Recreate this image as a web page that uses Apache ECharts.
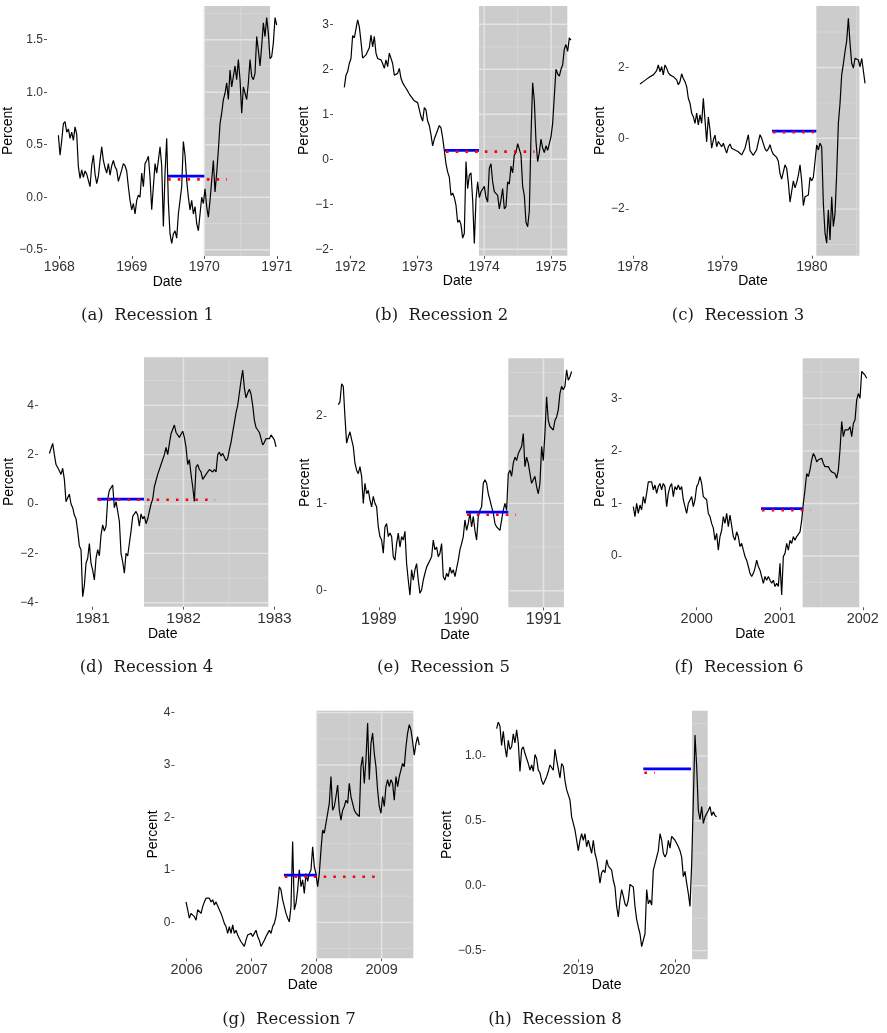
<!DOCTYPE html>
<html>
<head>
<meta charset="utf-8">
<script src="https://cdn.jsdelivr.net/npm/echarts@6/dist/echarts.min.js"></script>
<style>
  html, body { margin: 0; padding: 0; background: #ffffff; }
  #chart { width: 887px; height: 1033px; }
</style>
</head>
<body>
<div id="chart"></div>
<script>
// Spread series (percent) around each recession, evenly sampled between start and end (decimal years)
const startA = 1967.987, endA = 1970.998;
const valuesA = [0.59,0.40,0.54,0.70,0.72,0.62,0.65,0.56,0.62,0.54,0.67,0.60,0.29,0.18,0.26,0.19,0.25,0.22,0.16,0.10,0.30,0.40,0.22,0.13,0.20,0.35,0.48,0.35,0.28,0.23,0.32,0.21,0.30,0.35,0.29,0.26,0.15,0.15,0.26,0.32,0.30,0.25,0.10,-0.03,-0.12,-0.06,-0.16,-0.03,0.02,0.00,0.23,0.10,0.32,0.35,0.39,0.19,-0.12,0.10,0.32,0.23,0.35,0.48,0.30,-0.28,0.23,0.56,-0.05,-0.35,-0.44,-0.35,-0.32,-0.39,-0.16,-0.03,0.10,0.53,0.40,0.16,0.00,-0.12,-0.03,-0.16,-0.09,-0.25,-0.32,-0.16,0.00,-0.06,0.08,-0.09,-0.19,-0.03,0.16,0.35,0.05,0.23,0.45,0.70,0.80,0.93,0.99,1.09,0.93,1.21,1.05,1.15,1.25,1.12,1.31,1.12,0.80,1.05,0.99,0.93,1.09,1.31,1.15,1.12,1.18,1.53,1.40,1.25,1.44,1.66,1.53,1.71,1.56,1.32,1.34,1.47,1.71,1.64];

const startB = 1971.910, endB = 1975.297;
const valuesB = [1.60,1.87,1.95,2.13,2.24,2.75,2.70,2.90,3.10,2.95,2.62,2.25,2.25,2.32,2.40,2.48,2.76,2.50,2.73,2.36,2.24,2.28,2.21,2.13,2.02,2.21,2.06,2.36,2.32,2.13,1.87,1.84,1.91,2.02,1.80,1.70,1.67,1.58,1.52,1.45,1.40,1.35,1.30,1.30,1.26,1.28,0.95,0.85,1.15,1.10,0.85,0.75,0.55,0.30,0.45,0.55,0.52,0.75,0.70,0.48,0.20,-0.10,-0.28,-0.40,-0.80,-0.75,-0.85,-1.02,-1.40,-1.35,-1.45,-1.75,-1.65,-0.05,-0.65,-0.35,-0.30,-0.90,-1.87,-0.90,-0.50,-0.85,-0.72,-0.74,-0.60,-0.85,-0.95,-0.20,-0.10,-0.50,-0.72,-0.70,-0.80,-1.10,-0.90,-0.65,-1.10,-1.05,-0.50,-0.55,-0.15,-0.30,0.10,0.15,0.35,0.35,0.10,-0.60,-0.80,-1.40,-1.50,-1.15,0.50,1.70,1.30,0.40,-0.05,0.15,0.45,0.25,0.15,0.30,0.20,0.35,0.50,0.80,1.40,2.00,1.90,1.85,2.00,2.10,2.45,2.55,2.40,2.70,2.65];

const startC = 1978.080, endC = 1980.594;
const valuesC = [1.53,1.56,1.60,1.63,1.67,1.70,1.74,1.72,1.79,1.85,1.91,2.07,1.88,2.02,1.79,2.07,1.98,1.85,1.79,1.76,1.74,1.70,1.65,1.51,1.60,1.82,1.69,1.60,1.46,1.13,0.99,0.71,0.61,0.42,0.71,0.38,0.66,0.42,1.13,0.52,-0.10,0.60,0.24,-0.28,-0.05,0.09,-0.24,-0.09,-0.14,-0.24,-0.14,-0.28,-0.42,-0.24,-0.16,-0.28,-0.24,-0.33,-0.28,-0.38,-0.42,-0.47,-0.52,-0.28,-0.30,0.10,-0.35,-0.35,-0.48,-0.45,-0.32,-0.10,0.10,0.00,-0.15,-0.30,-0.36,-0.30,-0.18,-0.35,-0.45,-0.50,-0.54,-0.65,-1.00,-1.15,-0.95,-0.75,-0.85,-1.25,-1.80,-1.50,-1.20,-1.40,-1.25,-1.05,-0.75,-1.20,-1.90,-1.65,-1.70,-1.60,-1.10,-1.20,-1.10,-0.65,-0.19,-0.33,-0.14,-0.24,-1.84,-2.68,-2.96,-2.02,-2.87,-1.65,-2.49,-2.12,-0.99,0.42,0.99,1.80,2.10,2.45,2.75,3.39,2.68,2.12,1.98,2.26,2.31,2.21,2.02,2.26,2.30,1.55];

const startD = 1980.524, endD = 1983.018;
const valuesD = [2.05,2.25,2.46,2.00,1.60,1.55,1.35,1.20,1.45,1.00,0.09,0.25,0.40,0.00,-0.15,-0.45,-0.60,-1.10,-1.70,-1.86,-3.76,-3.30,-2.40,-2.20,-1.60,-2.41,-2.68,-3.08,-2.20,-1.85,-2.10,-1.25,-0.85,-1.10,-0.90,0.20,0.55,0.50,0.77,-0.15,0.10,-0.30,-0.70,-2.00,-2.35,-2.80,-2.00,-2.10,-1.60,-1.10,-0.50,-0.45,-0.30,-0.45,-0.90,-0.40,-0.60,-0.50,-0.80,-0.60,-0.30,0.00,0.20,0.70,0.75,1.20,1.20,1.60,1.60,2.00,2.30,2.00,2.45,2.85,2.90,3.20,2.90,2.85,2.70,2.75,2.95,2.70,2.30,1.60,1.80,1.20,0.70,0.10,1.50,1.60,1.40,1.30,1.00,1.00,1.20,1.15,1.40,1.45,1.30,1.40,1.30,2.00,2.10,1.95,2.05,2.00,1.75,1.85,2.20,2.50,2.90,3.30,3.70,4.00,4.50,5.00,5.43,4.70,4.30,4.50,4.65,4.45,4.00,3.40,3.10,3.10,2.90,2.65,2.40,2.50,2.65,2.60,2.65,2.80,2.80,2.60,2.32];

const startE = 1988.507, endE = 1991.341;
const valuesE = [2.13,2.16,2.37,2.34,1.99,1.69,1.76,1.82,1.73,1.65,1.46,1.38,1.34,1.42,1.31,1.00,1.23,1.11,1.15,1.04,0.96,1.08,1.00,0.96,0.73,0.62,0.58,0.43,0.73,0.77,0.62,0.66,0.62,0.39,0.35,0.54,0.66,0.50,0.62,0.58,0.68,0.31,0.12,-0.05,0.24,0.12,0.24,0.31,0.12,-0.03,0.01,0.12,0.20,0.27,0.31,0.35,0.39,0.58,0.47,0.50,0.39,0.43,0.54,0.16,0.12,0.20,0.16,0.27,0.20,0.24,0.16,0.16,0.35,0.47,0.54,0.62,0.81,0.69,0.77,0.89,0.73,0.85,0.69,0.58,0.85,0.92,0.96,1.23,1.27,1.23,1.11,1.04,0.96,0.89,0.77,0.73,0.75,0.69,0.81,0.92,1.00,0.92,1.34,1.38,1.31,1.46,1.53,1.49,1.57,1.61,1.65,1.80,1.42,1.53,1.46,1.34,1.23,1.27,1.31,1.19,1.11,1.23,1.65,1.49,1.80,2.22,1.95,1.88,1.90,1.84,1.95,1.99,2.07,2.26,2.34,2.30,2.34,2.53,2.41,2.45,2.51];

const startF = 1999.236, endF = 2002.047;
const valuesF = [0.94,0.75,1.00,0.81,0.97,0.88,1.13,1.00,1.19,1.41,1.38,1.41,1.26,1.35,1.19,1.32,1.38,1.26,1.38,1.32,0.94,1.19,1.32,1.38,1.13,1.32,1.26,1.35,1.26,1.32,1.07,0.94,0.81,1.00,1.03,1.13,0.94,1.07,1.32,1.38,1.51,1.38,1.13,1.10,1.07,0.81,0.75,0.62,0.53,0.30,0.43,0.11,0.37,0.49,0.75,0.62,0.81,0.56,0.78,0.81,0.37,0.30,0.46,0.37,0.18,0.24,0.11,-0.01,-0.08,-0.20,-0.33,-0.39,-0.33,-0.23,-0.08,-0.20,-0.27,-0.27,-0.52,-0.39,-0.46,-0.39,-0.46,-0.52,-0.46,-0.58,-0.52,-0.58,-0.14,-0.74,-0.01,0.05,0.24,0.11,0.30,0.24,0.37,0.30,0.37,0.40,0.46,0.68,1.00,1.26,1.57,1.51,1.64,1.83,1.95,1.89,1.79,1.83,1.83,1.86,1.76,1.70,1.67,1.70,1.64,1.60,1.57,1.57,1.48,1.64,2.02,2.56,2.27,2.40,2.43,2.40,2.46,2.27,2.52,2.59,2.97,3.09,3.00,3.51,3.48,3.44,3.38];

const startG = 2005.990, endG = 2009.579;
const valuesG = [0.39,0.24,0.08,0.17,0.14,0.11,0.04,0.24,0.27,0.17,0.30,0.39,0.46,0.43,0.46,0.39,0.43,0.33,0.39,0.36,0.24,0.17,0.08,-0.02,-0.08,-0.21,-0.08,-0.21,-0.05,-0.21,-0.15,-0.24,-0.31,-0.37,-0.34,-0.46,-0.34,-0.24,-0.27,-0.21,-0.27,-0.21,-0.15,-0.27,-0.34,-0.46,-0.43,-0.34,-0.27,-0.21,-0.15,-0.21,-0.08,-0.02,0.11,0.36,0.68,0.62,0.43,0.30,0.17,0.08,0.01,0.30,1.54,0.24,0.36,0.62,1.00,0.68,0.81,0.55,0.93,0.78,0.93,1.00,1.44,1.06,0.93,0.68,0.93,1.38,1.76,1.70,1.89,2.08,2.27,2.78,2.14,2.21,2.40,2.62,2.14,1.95,2.14,2.21,2.33,2.27,2.65,2.40,2.27,2.14,2.08,2.08,2.02,2.97,3.16,2.65,3.10,3.80,2.72,3.41,3.61,3.22,2.97,2.52,2.21,2.08,2.40,2.21,2.59,2.72,2.59,2.72,2.65,2.33,2.78,2.59,2.78,2.91,3.03,2.97,3.35,3.61,3.77,3.67,3.45,3.19,3.41,3.54,3.38];

const startH = 2018.155, endH = 2020.431;
const valuesH = [1.21,1.26,1.23,1.08,1.19,1.07,0.99,1.12,1.05,1.07,1.17,1.10,1.20,1.10,0.88,1.05,1.07,1.02,0.98,0.94,0.89,0.93,0.88,1.01,0.98,0.89,0.87,0.81,0.78,0.81,0.84,0.88,0.93,0.92,0.89,1.05,0.97,0.90,0.83,0.94,0.92,0.81,0.74,0.70,0.66,0.53,0.48,0.43,0.35,0.27,0.35,0.40,0.35,0.40,0.30,0.35,0.30,0.25,0.35,0.25,0.20,0.12,0.02,0.10,0.12,0.10,0.20,0.15,0.16,0.12,0.04,-0.01,-0.16,-0.24,-0.11,-0.03,-0.08,-0.14,-0.16,-0.11,0.01,0.02,-0.01,-0.16,-0.26,-0.32,-0.37,-0.47,-0.46,-0.37,-0.03,-0.14,-0.11,-0.15,0.12,0.17,0.22,0.27,0.40,0.35,0.25,0.22,0.25,0.35,0.29,0.38,0.39,0.35,0.35,0.30,0.27,0.22,0.07,0.11,0.02,-0.06,-0.16,0.17,0.66,1.16,0.92,0.58,0.51,0.61,0.48,0.53,0.52,0.58,0.61,0.54,0.57,0.54,0.53];

// Recession periods shaded in grey: [start, end]
const recessions = [[1970.0,1970.906],[1973.922,1975.242],[1980.050,1980.531],[1981.565,1982.933],[1990.572,1991.248],[2001.276,2001.958],[2008.0,2009.487],[2020.176,2020.338]];
// Solid blue threshold: [level, from, to]
const thresholdLines = [[0.2,1969.495,1970.0],[0.2,1973.414,1973.922],[0.2,1979.555,1980.050],[0.2,1981.052,1981.565],[0.9,1990.058,1990.572],[0.9,2000.774,2001.276],[0.9,2007.497,2008.0],[0.9,2019.672,2020.166]];
// Dotted red level: [level, from, to]
const forecastLines = [[0.17,1969.50,1970.313],[0.17,1973.43,1974.75],[0.17,1979.566,1980.02],[0.17,1981.063,1982.347],[0.87,1990.07,1990.666],[0.87,2000.786,2001.372],[0.87,2007.51,2009.0],[0.87,2019.683,2019.79]];

// Axis ticks
const xTicks = [[1968,1969,1970,1971],[1972,1973,1974,1975],[1978,1979,1980],[1981,1982,1983],[1989,1990,1991],[2000,2001,2002],[2006,2007,2008,2009],[2019,2020]];
const yTicks = [[-0.5,0,0.5,1,1.5],[-2,-1,0,1,2,3],[-2,0,2],[-4,-2,0,2,4],[0,1,2],[0,1,2,3],[0,1,2,3,4],[-0.5,0,0.5,1]];
const yDecimals = [1,0,0,0,0,0,0,1];
const captions = ['(a)  Recession 1','(b)  Recession 2','(c)  Recession 3','(d)  Recession 4','(e)  Recession 5','(f)  Recession 6','(g)  Recession 7','(h)  Recession 8'];

const series = [
  [startA, endA, valuesA], [startB, endB, valuesB], [startC, endC, valuesC], [startD, endD, valuesD],
  [startE, endE, valuesE], [startF, endF, valuesF], [startG, endG, valuesG], [startH, endH, valuesH]
];

// Panel layout: pixel box and axis extents
const layout = [
  {left:47,    top:6,     width:241,   height:250,   xMin:1967.830, xMax:1971.154, yMin:-0.560, yMax:1.821, xFont:14,   gapX:15, gapY:27, capX:147.5, capY:316},
  {left:333,   top:6,     width:249.3, height:249.7, xMin:1971.741, xMax:1975.466, yMin:-2.142, yMax:3.407, xFont:14,   gapX:15, gapY:18, capX:441.5, capY:316},
  {left:628.7, top:6,     width:248.6, height:249.7, xMin:1977.954, xMax:1980.731, yMin:-3.315, yMax:3.735, xFont:14,   gapX:15, gapY:18, capX:738,   capY:316},
  {left:38,    top:357.3, width:249.4, height:249.4, xMin:1980.399, xMax:1983.143, yMin:-4.163, yMax:5.947, xFont:15.5, gapX:18, gapY:18, capX:146.5, capY:668},
  {left:326.6, top:358.3, width:256.7, height:249,   xMin:1988.365, xMax:1991.483, yMin:-0.190, yMax:2.661, xFont:16,   gapX:16, gapY:12, capX:443.5, capY:668},
  {left:621.6, top:358.3, width:256.8, height:249,   xMin:1999.095, xMax:2002.188, yMin:-0.976, yMax:3.761, xFont:14.5, gapX:17, gapY:11, capX:739,   capY:668},
  {left:174.4, top:710.7, width:256.5, height:247.6, xMin:2005.811, xMax:2009.758, yMin:-0.686, yMax:4.037, xFont:14.5, gapX:18, gapY:12, capX:289,   capY:1020},
  {left:485.6, top:710.7, width:242.1, height:248.6, xMin:2018.041, xMax:2020.545, yMin:-0.567, yMax:1.348, xFont:14,   gapX:17, gapY:28, capX:555,   capY:1020}
];

const SANS = 'Liberation Sans, Arial, Helvetica, sans-serif';
const LABEL_COLOR = '#333333';
const TICK_COLOR = '#555555';

// Major ticks plus the half-way minor positions that fall within the axis range
function gridPositions(ticks, lo, hi) {
  const out = ticks.map(v => ({ v, major: true }));
  const step = ticks.length > 1 ? ticks[1] - ticks[0] : 1;
  const mids = [ticks[0] - step / 2];
  for (let k = 0; k < ticks.length - 1; k++) mids.push((ticks[k] + ticks[k + 1]) / 2);
  mids.push(ticks[ticks.length - 1] + step / 2);
  mids.forEach(v => { if (v >= lo && v <= hi) out.push({ v, major: false }); });
  return out;
}

function fmtNumber(v, decimals) {
  const s = Math.abs(v).toFixed(decimals);
  return (v < -1e-9 ? '\u2212' : '') + s;
}

// Grey recession band with the white panel grid showing only inside it
function bandRenderer(i) {
  const L = layout[i];
  const hLines = gridPositions(yTicks[i], L.yMin, L.yMax);
  const vLines = gridPositions(xTicks[i], L.xMin, L.xMax);
  return function (params, api) {
    const cs = params.coordSys;
    const x0 = api.coord([api.value(0), L.yMin])[0];
    const x1 = api.coord([api.value(1), L.yMin])[0];
    const top = cs.y, bottom = cs.y + cs.height;
    const children = [{
      type: 'rect',
      shape: { x: x0, y: top, width: x1 - x0, height: bottom - top },
      style: { fill: '#cccccc' }
    }];
    hLines.forEach(g => {
      const y = api.coord([L.xMin, g.v])[1];
      children.push({
        type: 'line',
        shape: { x1: x0, y1: y, x2: x1, y2: y },
        style: { stroke: g.major ? '#e4e4e4' : '#d9d9d9', lineWidth: g.major ? 1.4 : 0.8 }
      });
    });
    vLines.forEach(g => {
      if (g.v < api.value(0) - 1e-6 || g.v > api.value(1) + 1e-6) return;
      const x = api.coord([g.v, L.yMin])[0];
      children.push({
        type: 'line',
        shape: { x1: x, y1: top, x2: x, y2: bottom },
        style: { stroke: g.major ? '#e4e4e4' : '#d9d9d9', lineWidth: g.major ? 1.4 : 0.8 }
      });
    });
    return { type: 'group', children };
  };
}

const grids = [], xAxes = [], yAxes = [], allSeries = [], graphics = [];

layout.forEach((L, i) => {
  grids.push({ left: L.left, top: L.top, width: L.width, height: L.height, containLabel: false, outerBoundsMode: 'none' });

  xAxes.push({
    type: 'value', gridIndex: i, min: L.xMin, max: L.xMax,
    name: 'Date', nameLocation: 'middle', nameGap: L.gapX,
    nameTextStyle: { fontFamily: SANS, fontSize: 14, color: '#000' },
    axisLine: { show: false, onZero: false },
    axisTick: { show: true, length: 3, customValues: xTicks[i], lineStyle: { color: TICK_COLOR, width: 1 } },
    axisLabel: { customValues: xTicks[i], formatter: v => String(Math.round(v)), fontFamily: SANS, fontSize: L.xFont, color: LABEL_COLOR, margin: 4 },
    splitLine: { show: false }
  });

  yAxes.push({
    type: 'value', gridIndex: i, min: L.yMin, max: L.yMax,
    name: 'Percent', nameLocation: 'middle', nameRotate: 90, nameGap: L.gapY,
    nameTextStyle: { fontFamily: SANS, fontSize: 14, color: '#000' },
    axisLine: { show: false, onZero: false },
    axisTick: { show: true, length: 3, customValues: yTicks[i], lineStyle: { color: TICK_COLOR, width: 1 } },
    axisLabel: { customValues: yTicks[i], formatter: v => fmtNumber(v, yDecimals[i]), fontFamily: SANS, fontSize: 12, color: LABEL_COLOR, margin: 4 },
    splitLine: { show: false }
  });

  const r = recessions[i];
  allSeries.push({
    type: 'custom', xAxisIndex: i, yAxisIndex: i, z: 1, silent: true,
    renderItem: bandRenderer(i),
    encode: { x: [0, 1], y: 2 },
    data: [[r[0], r[1], (L.yMin + L.yMax) / 2]]
  });

  const [s0, s1, vals] = series[i];
  const step = (s1 - s0) / (vals.length - 1);
  allSeries.push({
    type: 'line', xAxisIndex: i, yAxisIndex: i, z: 2, silent: true,
    showSymbol: false, symbol: 'none',
    lineStyle: { color: '#000000', width: 1.2 },
    data: vals.map((v, k) => [s0 + k * step, v])
  });

  const t = thresholdLines[i];
  allSeries.push({
    type: 'line', xAxisIndex: i, yAxisIndex: i, z: 3, silent: true,
    symbol: 'none', showSymbol: false,
    lineStyle: { color: '#0000ff', width: 2.7 },
    data: [[t[1], t[0]], [t[2], t[0]]]
  });

  const f = forecastLines[i];
  allSeries.push({
    type: 'line', xAxisIndex: i, yAxisIndex: i, z: 4, silent: true,
    symbol: 'none', showSymbol: false,
    lineStyle: { color: '#ff0000', width: 2.6, type: [2.6, 7.1], cap: 'butt' },
    data: [[f[1], f[0]], [f[2], f[0]]]
  });

  graphics.push({
    type: 'text', x: L.capX, y: L.capY, silent: true,
    style: { text: captions[i], font: '16.5px "DejaVu Serif", serif', fill: '#1a1a1a', textAlign: 'center', textVerticalAlign: 'middle' }
  });
});

const chart = echarts.init(document.getElementById('chart'), null, { renderer: 'canvas' });
chart.setOption({
  animation: false,
  backgroundColor: '#ffffff',
  grid: grids,
  xAxis: xAxes,
  yAxis: yAxes,
  series: allSeries,
  graphic: graphics
});
</script>
</body>
</html>
